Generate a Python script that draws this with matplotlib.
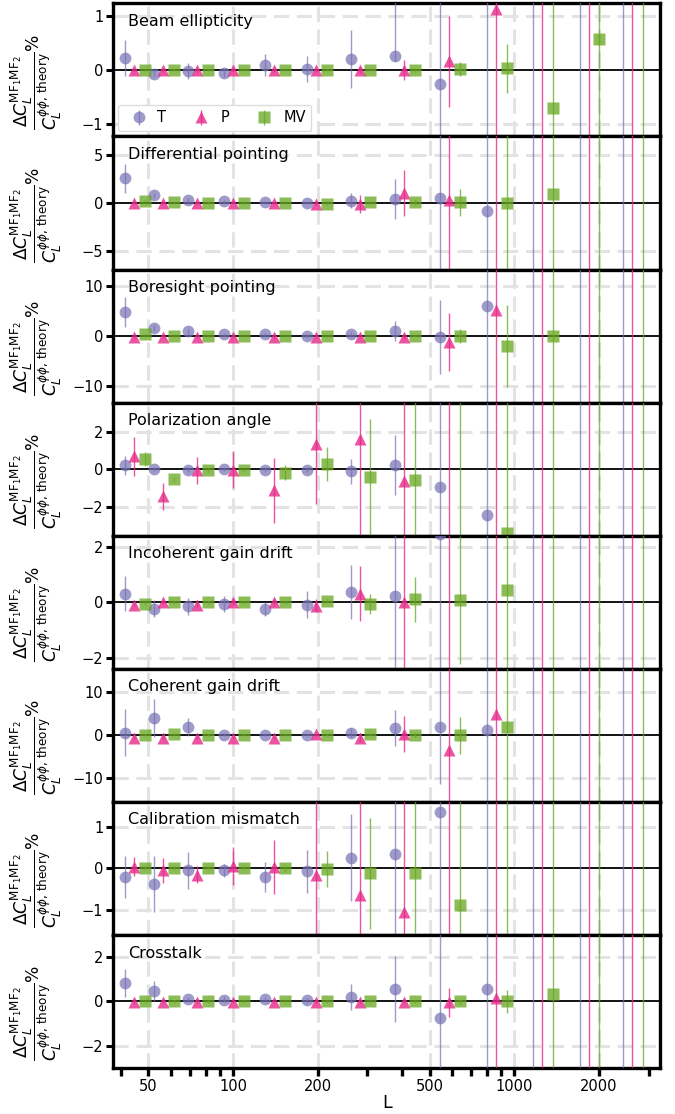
#!/usr/bin/env python3
#=========================================================================#
# Preamble                                                                #
#=========================================================================#
import numpy as np
import matplotlib
matplotlib.use('Agg')
import matplotlib.pyplot as plt
#-------------------------------------------------------------------------#
# Plot settings                                                           #
#-------------------------------------------------------------------------#
plt.rcParams['font.family'] = ['DejaVu Sans']
plt.rcParams['mathtext.fontset'] = 'dejavusans'
#=========================================================================#
# Data                                                                    #
#=========================================================================#
L_bins = [41.3, 52.4, 69.0, 92.8, 129.5, 182.8, 261.5, 376.7, 545.6,
          797.5, 1164, 1706, 2427]
names = ['Beam ellipticity', 'Differential pointing', 'Boresight pointing',
         'Polarization angle', 'Incoherent gain drift', 'Coherent gain drift',
         'Calibration mismatch', 'Crosstalk']
series = ['T', 'P', 'MV']
ylims = [1.23, 6.9, 13.4, 3.55, 2.4, 15.5, 1.6, 3.0]
yticks = [1, 5, 10, 2, 2, 10, 1, 2]

# rows: T, P, MV ; errors may be (lower, upper)
beam_val = [[0.22, -0.07, -0.02, -0.06, 0.09, 0.01, 0.20, 0.26, -0.27, 2, 2, -2, 2],
            [-0.01, 0, 0, 0, 0, 0, 0, 0, 0.16, 1.12, 2, 2, -2],
            [0, 0, 0, 0, 0, 0, 0, 0, 0.01, 0.03, -0.70, 0.57, 2]]
beam_err = [[0.34, 0.06, 0.14, 0.08, 0.20, 0.24, 0.54, (0.1, 1.5), 2, 4, 4, 4, 4],
            [0.03, 0.03, 0.03, 0.03, 0.03, 0.03, 0.05, 0.18, 0.84, 2.5, 4, 4, 4],
            [0.02, 0.02, 0.02, 0.02, 0.02, 0.02, 0.02, 0.03, 0.13, 0.45, 3, 3, 4]]

diff_val = [[2.54, 0.78, 0.28, 0.18, 0.10, 0.0, 0.25, 0.42, 0.53, -0.81, 10, 10, 10],
            [0, 0, -0.05, -0.05, -0.05, -0.1, -0.1, 1.06, 0.28, 10, 10, 10, 10],
            [0.18, 0.05, 0, 0, 0, -0.1, 0.05, 0.07, 0.07, 0.0, 0.88, 10, 10]]
diff_err = [[1.55, 0.3, 0.2, 0.15, 0.15, 0.15, 0.8, 2.1, 30, 30, 30, 30, 30],
            [0.1, 0.1, 0.1, 0.1, 0.1, 0.1, 0.95, 2.4, 30, 30, 30, 30, 30],
            [0.1, 0.1, 0.1, 0.1, 0.1, 0.1, 0.2, 0.3, 1.4, 30, 30, 30, 30]]

bore_val = [[4.9, 1.7, 1.0, 0.35, 0.35, 0.0, 0.35, 1.0, -0.2, 6.0, 20, 20, 20],
            [-0.2, -0.2, -0.2, -0.2, -0.2, -0.2, -0.2, -0.2, -1.15, 5.3, 20, 20, 20],
            [0.35, 0, 0, 0, 0, 0, 0, 0, 0, -2.05, 0.0, 20, 20]]
bore_err = [[3.0, 0.6, 0.5, 0.3, 0.3, 0.3, 0.5, 2.0, 7.4, 50, 50, 50, 50],
            [0.1, 0.1, 0.1, 0.1, 0.1, 0.1, 0.1, 0.3, 5.8, 50, 50, 50, 50],
            [0.1, 0.1, 0.1, 0.1, 0.1, 0.1, 0.1, 0.2, 1.4, 8.3, 50, 50, 50]]

pol_val = [[0.2, 0.02, -0.03, 0.0, -0.03, -0.03, -0.12, 0.23, -0.96, -2.46, 5, 5, 5],
           [0.68, -1.46, -0.07, -0.03, -1.14, 1.35, 1.6, -0.62, 5, 5, 5, 5, 5],
           [0.53, -0.53, -0.03, -0.07, -0.2, 0.28, -0.43, -0.57, 5, -3.4, 5, 5, 5]]
pol_err = [[0.5, 0.1, 0.1, 0.1, 0.1, 0.1, 0.65, 1.6, 20, 20, 20, 20, 20],
           [1.03, 0.7, 0.7, 1.0, 1.75, 3.2, 20, 20, 20, 20, 20, 20, 20],
           [0.37, 0.1, 0.1, 0.1, 0.4, 0.9, 3.1, 20, 20, 20, 20, 20, 20]]

incoh_val = [[0.31, -0.23, -0.15, -0.06, -0.23, -0.09, 0.38, 0.22, 2.45, 3, 3, 3, 3],
             [-0.09, 0.0, -0.09, 0.0, 0.0, -0.12, 0.31, 0.0, 3, 3, 3, 3, 3],
             [-0.05, 0.0, 0.0, 0.0, 0.0, 0.04, -0.06, 0.1, 0.07, 0.43, 3, 3, 3]]
incoh_err = [[0.62, 0.3, 0.3, 0.3, 0.25, 0.48, 0.98, 20, 20, 20, 20, 20, 20],
             [0.05, 0.05, 0.1, 0.1, 0.1, 0.25, 1.0, 20, 20, 20, 20, 20, 20],
             [0.05, 0.05, 0.05, 0.05, 0.05, 0.08, 0.37, 0.8, 2.3, 20, 20, 20, 20]]

coh_val = [[0.64, 4.0, 1.84, 0.08, 0.08, 0.08, 0.64, 1.6, 1.84, 1.28, 20, 20, 20],
           [-0.56, -0.56, -0.56, -0.56, -0.56, 0.24, -0.56, 0.4, -3.36, 5.04, 20, 20, 20],
           [0.0, 0.24, 0.0, 0.0, 0.0, 0.0, 0.24, 0.0, 0.0, 1.84, 20, 20, 20]]
coh_err = [[5.4, 4.5, 2.1, 0.3, 0.3, 0.3, 1.0, 4.2, 13.1, 50, 50, 50, 50],
           [0.3, 0.3, 0.3, 0.3, 0.3, 0.3, 1.0, 4.2, 50, 50, 50, 50, 50],
           [0.2, 0.2, 0.2, 0.2, 0.2, 0.2, 0.3, 0.5, 4.3, 50, 50, 50, 50]]

calib_val = [[-0.21, -0.38, -0.05, -0.05, -0.21, -0.07, 0.26, 0.35, 1.35, 2, 2, 2, 2],
             [0.04, -0.05, -0.15, 0.06, 0.04, -0.16, -0.64, -1.04, 2, 2, 2, 2, 2],
             [0.0, 0.0, 0.0, 0.0, 0.0, -0.02, -0.12, -0.12, -0.89, 2, 2, 2, 2]]
calib_err = [[0.51, 0.68, 0.45, 0.15, 0.36, 0.52, 1.04, 10, 10, 10, 10, 10, 10],
             [0.23, 0.3, 0.2, 0.46, 0.65, 10, 10, 10, 10, 10, 10, 10, 10],
             [0.05, 0.05, 0.05, 0.05, 0.08, 0.43, 1.33, 10, 10, 10, 10, 10, 10]]

cross_val = [[0.83, 0.45, 0.12, 0.08, 0.12, 0.05, 0.2, 0.56, -0.75, 0.56, 5, 5, 5],
             [-0.03, -0.03, -0.03, -0.03, -0.03, -0.03, -0.03, -0.03, -0.03, 0.15, 5, 5, 5],
             [0.0, 0.0, 0.0, 0.0, 0.0, 0.0, 0.0, 0.0, 0.0, 0.0, 0.33, 5, 5]]
cross_err = [[0.65, 0.45, 0.1, 0.1, 0.1, 0.1, 0.6, 1.5, 20, 20, 20, 20, 20],
             [0.05, 0.05, 0.05, 0.05, 0.05, 0.05, 0.05, 0.05, 0.65, 20, 20, 20, 20],
             [0.05, 0.05, 0.05, 0.05, 0.05, 0.05, 0.05, 0.05, 0.1, 0.5, 20, 20, 20]]

all_val = [beam_val, diff_val, bore_val, pol_val, incoh_val, coh_val,
           calib_val, cross_val]
all_err = [beam_err, diff_err, bore_err, pol_err, incoh_err, coh_err,
           calib_err, cross_err]
#=========================================================================#
# Style                                                                   #
#=========================================================================#
colors  = ['#7570b3', '#e7298a', '#66a61e']
markers = ['o', '^', 's']
msizes  = [8.5, 8.5, 8]
shift   = [1.0, 1.077, 1.177]
alphas  = [0.7, 0.8, 0.75]

def split_err(err):
    lo = [e[0] if isinstance(e, tuple) else e for e in err]
    hi = [e[1] if isinstance(e, tuple) else e for e in err]
    return np.array([lo, hi])
#=========================================================================#
# Main                                                                    #
#=========================================================================#
fig, axes = plt.subplots(8, 1, figsize=(6.75, 11.14), dpi=100, sharex=True)
fig.subplots_adjust(left=0.1674, right=0.978, top=0.997, bottom=0.0413,
                    hspace=0)

xt_all  = [40, 50, 60, 70, 80, 90, 100, 200, 300, 400, 500, 600, 700, 800,
           900, 1000, 2000, 3000]
xt_lab  = [50, 100, 200, 500, 1000, 2000]

for i, ax in enumerate(axes):
    L = np.array(L_bins)
    for k in range(3):
        ax.errorbar(L*shift[k], all_val[i][k], yerr=split_err(all_err[i][k]),
                    fmt=markers[k], color=colors[k], ms=msizes[k],
                    mec='none', alpha=alphas[k], elinewidth=1.0, capsize=0,
                    label=series[k], zorder=3)
    ax.axhline(0, color='k', lw=1.3, zorder=2)
    ax.set_xscale('log')
    ax.set_xlim(37.4, 3300)
    ax.set_ylim(-ylims[i], ylims[i])
    ax.set_yticks([-yticks[i], 0, yticks[i]])
    ax.set_xticks(xt_all)
    ax.set_xticklabels([str(v) if v in xt_lab else '' for v in xt_all])
    ax.xaxis.set_minor_locator(matplotlib.ticker.NullLocator())
    # grid only at labelled positions
    for v in xt_lab:
        ax.axvline(v, color='#e3e3e3', lw=2.2, ls=(0, (5, 2.5)), zorder=0)
    for v in [-yticks[i], yticks[i]]:
        ax.axhline(v, color='#e3e3e3', lw=2.2, ls=(0, (5, 2.5)), zorder=0)
    for sp in ax.spines.values():
        sp.set_linewidth(2.4)
    ax.tick_params(axis='y', direction='out', length=5, width=2.2,
                   labelsize=10.5, pad=2)
    ax.tick_params(axis='x', direction='out', length=6, width=2.4,
                   labelsize=10.5, pad=2)
    ax.text(0.027, 0.92, names[i], transform=ax.transAxes, va='top',
            ha='left', fontsize=11.5)
    ax.set_ylabel(r'$\dfrac{\Delta C_L^{\mathrm{MF_1MF_2}}}'
                  r'{C_L^{\phi\phi,\,\mathrm{theory}}}\%$', fontsize=12.3)
    ax.yaxis.set_label_coords(-0.09, 0.41)

leg = axes[0].legend(loc='lower left', ncol=3, fontsize=10.5,
                     handletextpad=0.3, columnspacing=1.4,
                     borderaxespad=0.35, framealpha=1.0, edgecolor='#dddddd')
axes[-1].set_xlabel('L', fontsize=12.5, labelpad=0)

plt.savefig('out.png', dpi=100)
plt.close()
